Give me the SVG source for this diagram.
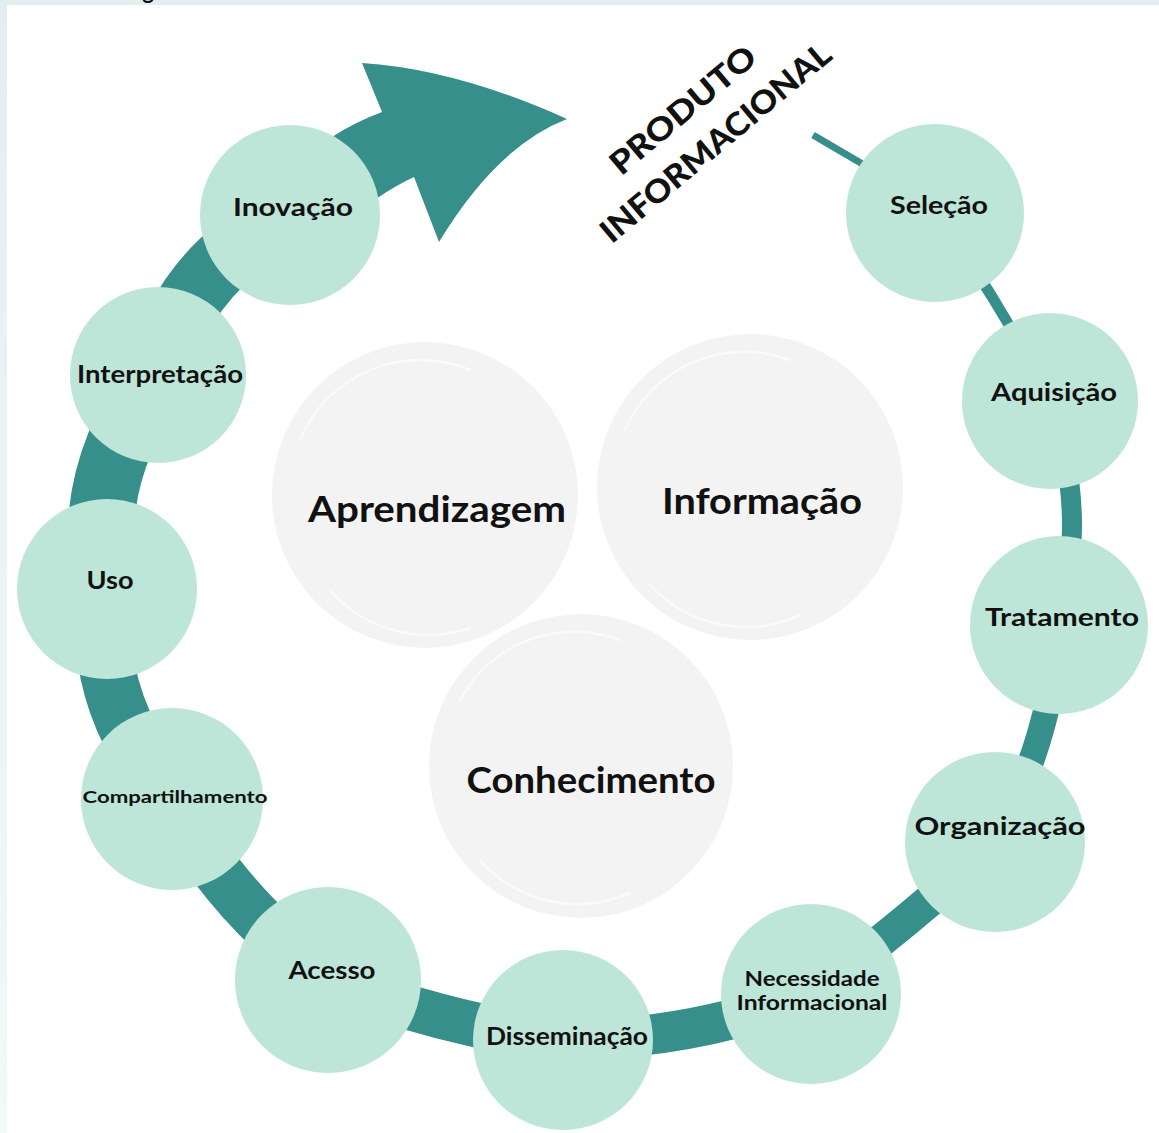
<svg xmlns="http://www.w3.org/2000/svg" width="1159" height="1133" viewBox="0 0 1159 1133">
  <defs>
    <linearGradient id="edgeFade" x1="0" y1="0" x2="0" y2="1">
      <stop offset="0" stop-color="#e4eef1"/>
      <stop offset="1" stop-color="#f3f8f9"/>
    </linearGradient>
    <style>
      .band { fill: none; stroke: #378f8c; stroke-linecap: butt; }
      .node { fill: #bde5d8; }
      .hub { fill: #f3f3f3; }
      .brush { fill: none; stroke: #ffffff; stroke-width: 2.5; opacity: 0.55; stroke-linecap: round; }
      .lbl { font-family: Lato, "Open Sans", "Liberation Sans", sans-serif; font-weight: 700; fill: #111111; text-anchor: middle; }
      .big { font-size: 37px; }
      .mid { font-size: 25px; }
    </style>
  </defs>

  <!-- page background and frame -->
  <rect x="0" y="0" width="1159" height="1133" fill="#ffffff"/>
  <rect x="0" y="0" width="1159" height="5" fill="#e4eef1"/>
  <rect x="0" y="0" width="7" height="1133" fill="url(#edgeFade)"/>
  <text x="148" y="-1" class="lbl" style="font-size:22px">g</text>

  <!-- spiral band with arrowhead -->
  <g id="connectors">
    <path class="band" stroke-width="7" d="M 813 135 L 900 186"/>
    <path class="band" stroke-width="11" d="M 935 213 Q 1000 300 1050 401"/>
    <path class="band" stroke-width="20" d="M 1050 401 Q 1089 512 1059 625"/>
    <path class="band" stroke-width="26" d="M 1059 625 Q 1052 737 995 842"/>
    <path class="band" stroke-width="33" d="M 995 842 Q 910 922 811 994"/>
    <path class="band" stroke-width="40" d="M 811 994 Q 692 1040 563 1040"/>
    <path class="band" stroke-width="45" d="M 563 1040 Q 449 1026 328 980"/>
    <path class="band" stroke-width="50" d="M 328 980 Q 220 897 172 799"/>
    <path class="band" stroke-width="56" d="M 172 799 Q 88 696 107 589"/>
    <path class="band" stroke-width="66" d="M 107 589 Q 82 482 158 375"/>
    <path class="band" stroke-width="64" d="M 158 375 Q 183 269 290 215"/>
    <path id="arrowhead" fill="#378f8c" d="M 270 175 L 332 137 Q 355 122 382 112 L 362 63 Q 456 69 567 119 Q 497 146 439 242 L 414 177 Q 395 186 379 197 L 300 240 Z"/>
  </g>

  <!-- title along the arrow -->
  <g id="title" transform="translate(715,142) rotate(-40)">
    <text x="-4" y="-34" class="lbl" style="font-size:32px;font-weight:900" textLength="180" lengthAdjust="spacingAndGlyphs">PRODUTO</text>
    <text x="0" y="12" class="lbl" style="font-size:32px;font-weight:900" textLength="290" lengthAdjust="spacingAndGlyphs">INFORMACIONAL</text>
  </g>

  <!-- central concepts -->
  <g id="hub-aprendizagem">
    <circle class="hub" cx="425" cy="495" r="153"/>
    <path class="brush" d="M 300 440 A 130 130 0 0 1 470 370"/>
    <path class="brush" d="M 330 590 A 130 130 0 0 0 470 628"/>
    <text x="437" y="522" class="lbl big" textLength="258" lengthAdjust="spacingAndGlyphs">Aprendizagem</text>
  </g>
  <g id="hub-informacao">
    <circle class="hub" cx="750" cy="487" r="153"/>
    <path class="brush" d="M 625 430 A 130 130 0 0 1 790 360"/>
    <path class="brush" d="M 650 585 A 130 130 0 0 0 800 615"/>
    <text x="762" y="514" class="lbl big" textLength="200" lengthAdjust="spacingAndGlyphs">Informação</text>
  </g>
  <g id="hub-conhecimento">
    <circle class="hub" cx="581" cy="766" r="152"/>
    <path class="brush" d="M 460 700 A 130 130 0 0 1 620 640"/>
    <path class="brush" d="M 480 860 A 130 130 0 0 0 630 893"/>
    <text x="591" y="793" class="lbl big" textLength="249" lengthAdjust="spacingAndGlyphs">Conhecimento</text>
  </g>

  <!-- cycle stages -->
  <g id="node-selecao">
    <circle class="node" cx="935" cy="213" r="89"/>
    <text x="939" y="214" class="lbl mid" textLength="98" lengthAdjust="spacingAndGlyphs">Seleção</text>
  </g>
  <g id="node-aquisicao">
    <circle class="node" cx="1050" cy="401" r="88"/>
    <text x="1054" y="401" class="lbl mid" textLength="126" lengthAdjust="spacingAndGlyphs">Aquisição</text>
  </g>
  <g id="node-tratamento">
    <circle class="node" cx="1059" cy="625" r="89"/>
    <text x="1062" y="626" class="lbl mid" textLength="154" lengthAdjust="spacingAndGlyphs">Tratamento</text>
  </g>
  <g id="node-organizacao">
    <circle class="node" cx="995" cy="842" r="90"/>
    <text x="1000" y="835" class="lbl mid" textLength="171" lengthAdjust="spacingAndGlyphs">Organização</text>
  </g>
  <g id="node-necessidade">
    <circle class="node" cx="811" cy="994" r="90"/>
    <text x="812" y="986" class="lbl" style="font-size:21px" textLength="135" lengthAdjust="spacingAndGlyphs">Necessidade</text>
    <text x="812" y="1010" class="lbl" style="font-size:21px" textLength="151" lengthAdjust="spacingAndGlyphs">Informacional</text>
  </g>
  <g id="node-disseminacao">
    <circle class="node" cx="563" cy="1040" r="90"/>
    <text x="567" y="1045" class="lbl mid" textLength="162" lengthAdjust="spacingAndGlyphs">Disseminação</text>
  </g>
  <g id="node-acesso">
    <circle class="node" cx="328" cy="980" r="93"/>
    <text x="332" y="979" class="lbl mid" textLength="87" lengthAdjust="spacingAndGlyphs">Acesso</text>
  </g>
  <g id="node-compartilhamento">
    <circle class="node" cx="172" cy="799" r="91"/>
    <text x="175" y="803" class="lbl" style="font-size:17px" textLength="185" lengthAdjust="spacingAndGlyphs">Compartilhamento</text>
  </g>
  <g id="node-uso">
    <circle class="node" cx="107" cy="589" r="90"/>
    <text x="110" y="589" class="lbl mid" textLength="47" lengthAdjust="spacingAndGlyphs">Uso</text>
  </g>
  <g id="node-interpretacao">
    <circle class="node" cx="158" cy="375" r="88"/>
    <text x="160" y="383" class="lbl mid" textLength="166" lengthAdjust="spacingAndGlyphs">Interpretação</text>
  </g>
  <g id="node-inovacao">
    <circle class="node" cx="290" cy="215" r="90"/>
    <text x="293" y="216" class="lbl mid" textLength="120" lengthAdjust="spacingAndGlyphs">Inovação</text>
  </g>
</svg>
